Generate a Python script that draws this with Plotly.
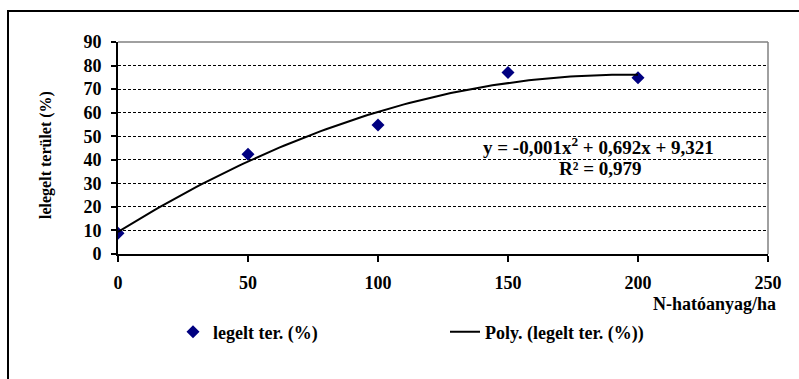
import numpy as np
import plotly.graph_objects as go

x_vals = [0, 50, 100, 150, 200]
y_vals = [8.8, 42.3, 54.8, 77.0, 74.8]
x_ticks = [0, 50, 100, 150, 200, 250]
y_ticks = [0, 10, 20, 30, 40, 50, 60, 70, 80, 90]
series_name = "legelt ter. (%)"
trend_name = "Poly. (legelt ter. (%))"
eq_text = "y = -0,001x<sup>2</sup> + 0,692x + 9,321"
r2_text = "R² = 0,979"

coef = np.polyfit(x_vals, y_vals, 2)
xt = np.linspace(min(x_vals), max(x_vals), 101)
yt = np.polyval(coef, xt)

FONT = "'Liberation Serif', 'Times New Roman', serif"
L, R, T, B = 118, 31, 42, 125
W, H = 799, 379
pw, ph = W - L - R, H - T - B

def px(x):
    return (x - L) / pw

def py(y):
    return (H - B - y) / ph

fig = go.Figure()
fig.add_trace(go.Scatter(x=x_vals, y=y_vals, mode="markers", name=series_name,
                         marker=dict(symbol="diamond", size=10, color="#000080")))
fig.add_trace(go.Scatter(x=xt, y=yt, mode="lines", name=trend_name,
                         line=dict(color="black", width=2)))

fig.update_layout(
    width=W, height=H,
    margin=dict(l=L, r=R, t=T, b=B),
    paper_bgcolor="white", plot_bgcolor="white",
    font=dict(family=FONT, size=16, color="black"),
    showlegend=True,
    legend=dict(orientation="h", x=px(173), y=py(332), xanchor="left", yanchor="middle",
                entrywidth=227, entrywidthmode="pixels",
                font=dict(family=FONT, size=18, color="black", weight="bold"),
                bgcolor="rgba(0,0,0,0)"),
    xaxis=dict(range=[0, 250], tickvals=x_ticks, showgrid=False, zeroline=False,
               showline=True, linecolor="black", linewidth=2,
               ticks="outside", ticklen=6, tickwidth=1.5, tickcolor="black",
               ticklabelstandoff=5,
               tickfont=dict(family=FONT, size=18, weight="bold")),
    yaxis=dict(range=[0, 90], tickvals=y_ticks, showgrid=True, gridcolor="black",
               griddash="3px,2px", gridwidth=1, zeroline=False,
               showline=True, linecolor="black", linewidth=2,
               ticks="outside", ticklen=5, tickwidth=1.5, tickcolor="black",
               ticklabelstandoff=6,
               tickfont=dict(family=FONT, size=18, weight="bold")),
)

# plot area top and right border (gray)
fig.add_shape(type="line", xref="paper", yref="paper", x0=0, x1=1, y0=1, y1=1,
              line=dict(color="#808080", width=1.5), layer="above")
fig.add_shape(type="line", xref="paper", yref="paper", x0=1, x1=1, y0=0, y1=1,
              line=dict(color="#808080", width=1.5), layer="above")
# outer chart border
fig.add_shape(type="rect", xref="paper", yref="paper",
              x0=px(8), x1=px(810), y0=py(390), y1=py(11),
              line=dict(color="black", width=2), fillcolor="rgba(0,0,0,0)", layer="above")

fig.add_annotation(text=eq_text, xref="paper", yref="paper", x=px(598), y=py(146),
                   showarrow=False, xanchor="center", yanchor="middle",
                   font=dict(family=FONT, size=19, weight="bold"))
fig.add_annotation(text=r2_text, xref="paper", yref="paper", x=px(600), y=py(168),
                   showarrow=False, xanchor="center", yanchor="middle",
                   font=dict(family=FONT, size=19, weight="bold"))
fig.add_annotation(text="N-hatóanyag/ha", xref="paper", yref="paper", x=px(778), y=py(304),
                   showarrow=False, xanchor="right", yanchor="middle",
                   font=dict(family=FONT, size=18, weight="bold"))
fig.add_annotation(text="lelegelt terület (%)", xref="paper", yref="paper", x=px(46), y=py(155),
                   showarrow=False, xanchor="center", yanchor="middle", textangle=-90,
                   font=dict(family=FONT, size=16, weight="bold"))

fig.write_html("out.html")
